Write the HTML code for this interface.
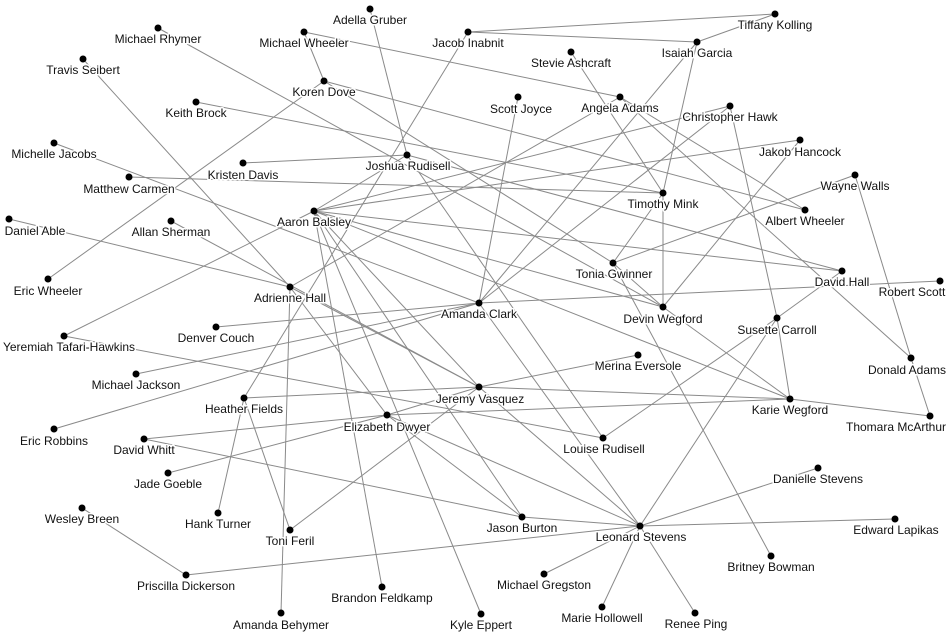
<!DOCTYPE html>
<html><head><meta charset="utf-8"><style>
html,body{margin:0;padding:0;background:#fff;}
svg{display:block;}
text{font-family:"Liberation Sans",sans-serif;font-size:12px;fill:#111;text-anchor:middle;paint-order:stroke;stroke:#fff;stroke-width:3px;stroke-linejoin:round;}
line{stroke:#8a8a8a;stroke-width:1;}
</style></head><body>
<svg width="950" height="642" viewBox="0 0 950 642" xmlns="http://www.w3.org/2000/svg">
<g>
<line x1="370" y1="9" x2="407" y2="155"/>
<line x1="304" y1="32" x2="324" y2="81"/>
<line x1="304" y1="32" x2="620" y2="97"/>
<line x1="468" y1="32" x2="775" y2="14"/>
<line x1="468" y1="32" x2="697" y2="42"/>
<line x1="775" y1="14" x2="697" y2="42"/>
<line x1="468" y1="32" x2="244" y2="398"/>
<line x1="158" y1="28" x2="663" y2="307"/>
<line x1="324" y1="81" x2="805" y2="210"/>
<line x1="324" y1="81" x2="613" y2="263"/>
<line x1="407" y1="155" x2="842" y2="271"/>
<line x1="196" y1="102" x2="663" y2="193"/>
<line x1="129" y1="177" x2="663" y2="193"/>
<line x1="54" y1="143" x2="479" y2="303"/>
<line x1="48" y1="279" x2="324" y2="81"/>
<line x1="83" y1="59" x2="290" y2="287"/>
<line x1="9" y1="219" x2="290" y2="287"/>
<line x1="171" y1="221" x2="479" y2="387"/>
<line x1="290" y1="287" x2="479" y2="387"/>
<line x1="290" y1="287" x2="620" y2="97"/>
<line x1="290" y1="287" x2="281" y2="613"/>
<line x1="290" y1="287" x2="387" y2="415"/>
<line x1="64" y1="336" x2="314" y2="211"/>
<line x1="64" y1="336" x2="603" y2="438"/>
<line x1="244" y1="398" x2="290" y2="530"/>
<line x1="244" y1="398" x2="218" y2="513"/>
<line x1="244" y1="398" x2="479" y2="387"/>
<line x1="290" y1="530" x2="479" y2="387"/>
<line x1="243" y1="163" x2="407" y2="155"/>
<line x1="407" y1="155" x2="314" y2="211"/>
<line x1="407" y1="155" x2="603" y2="438"/>
<line x1="314" y1="211" x2="730" y2="106"/>
<line x1="314" y1="211" x2="800" y2="140"/>
<line x1="314" y1="211" x2="663" y2="307"/>
<line x1="314" y1="211" x2="790" y2="399"/>
<line x1="314" y1="211" x2="842" y2="271"/>
<line x1="314" y1="211" x2="479" y2="387"/>
<line x1="314" y1="211" x2="382" y2="587"/>
<line x1="314" y1="211" x2="481" y2="614"/>
<line x1="314" y1="211" x2="522" y2="517"/>
<line x1="697" y1="42" x2="479" y2="303"/>
<line x1="730" y1="106" x2="479" y2="303"/>
<line x1="518" y1="97" x2="479" y2="303"/>
<line x1="571" y1="52" x2="663" y2="193"/>
<line x1="697" y1="42" x2="663" y2="193"/>
<line x1="620" y1="97" x2="911" y2="358"/>
<line x1="620" y1="97" x2="805" y2="210"/>
<line x1="479" y1="303" x2="940" y2="281"/>
<line x1="842" y1="271" x2="777" y2="318"/>
<line x1="855" y1="175" x2="613" y2="263"/>
<line x1="855" y1="175" x2="911" y2="358"/>
<line x1="911" y1="358" x2="930" y2="416"/>
<line x1="800" y1="140" x2="663" y2="307"/>
<line x1="730" y1="106" x2="777" y2="318"/>
<line x1="663" y1="193" x2="613" y2="263"/>
<line x1="663" y1="193" x2="663" y2="307"/>
<line x1="613" y1="263" x2="663" y2="307"/>
<line x1="613" y1="263" x2="771" y2="556"/>
<line x1="663" y1="307" x2="790" y2="399"/>
<line x1="777" y1="318" x2="790" y2="399"/>
<line x1="777" y1="318" x2="603" y2="438"/>
<line x1="777" y1="318" x2="640" y2="526"/>
<line x1="790" y1="399" x2="930" y2="416"/>
<line x1="790" y1="399" x2="479" y2="387"/>
<line x1="790" y1="399" x2="387" y2="415"/>
<line x1="638" y1="355" x2="479" y2="387"/>
<line x1="479" y1="387" x2="387" y2="415"/>
<line x1="479" y1="387" x2="640" y2="526"/>
<line x1="387" y1="415" x2="144" y2="439"/>
<line x1="387" y1="415" x2="168" y2="473"/>
<line x1="387" y1="415" x2="522" y2="517"/>
<line x1="387" y1="415" x2="640" y2="526"/>
<line x1="144" y1="439" x2="522" y2="517"/>
<line x1="82" y1="508" x2="186" y2="575"/>
<line x1="186" y1="575" x2="640" y2="526"/>
<line x1="640" y1="526" x2="818" y2="468"/>
<line x1="640" y1="526" x2="895" y2="519"/>
<line x1="640" y1="526" x2="544" y2="574"/>
<line x1="640" y1="526" x2="602" y2="607"/>
<line x1="640" y1="526" x2="695" y2="613"/>
<line x1="640" y1="526" x2="522" y2="517"/>
<line x1="479" y1="303" x2="216" y2="327"/>
<line x1="479" y1="303" x2="136" y2="374"/>
<line x1="479" y1="303" x2="54" y2="429"/>
<line x1="479" y1="303" x2="640" y2="526"/>
</g>
<g fill="#000">
<circle cx="370" cy="9" r="3.5"/><circle cx="775" cy="14" r="3.5"/><circle cx="158" cy="28" r="3.5"/><circle cx="304" cy="32" r="3.5"/><circle cx="468" cy="32" r="3.5"/><circle cx="697" cy="42" r="3.5"/><circle cx="83" cy="59" r="3.5"/><circle cx="571" cy="52" r="3.5"/><circle cx="324" cy="81" r="3.5"/><circle cx="518" cy="97" r="3.5"/><circle cx="620" cy="97" r="3.5"/><circle cx="196" cy="102" r="3.5"/><circle cx="730" cy="106" r="3.5"/><circle cx="54" cy="143" r="3.5"/><circle cx="800" cy="140" r="3.5"/><circle cx="407" cy="155" r="3.5"/><circle cx="243" cy="163" r="3.5"/><circle cx="129" cy="177" r="3.5"/><circle cx="855" cy="175" r="3.5"/><circle cx="663" cy="193" r="3.5"/><circle cx="805" cy="210" r="3.5"/><circle cx="9" cy="219" r="3.5"/><circle cx="171" cy="221" r="3.5"/><circle cx="314" cy="211" r="3.5"/><circle cx="613" cy="263" r="3.5"/><circle cx="842" cy="271" r="3.5"/><circle cx="940" cy="281" r="3.5"/><circle cx="48" cy="279" r="3.5"/><circle cx="290" cy="287" r="3.5"/><circle cx="479" cy="303" r="3.5"/><circle cx="663" cy="307" r="3.5"/><circle cx="216" cy="327" r="3.5"/><circle cx="64" cy="336" r="3.5"/><circle cx="777" cy="318" r="3.5"/><circle cx="638" cy="355" r="3.5"/><circle cx="911" cy="358" r="3.5"/><circle cx="136" cy="374" r="3.5"/><circle cx="479" cy="387" r="3.5"/><circle cx="244" cy="398" r="3.5"/><circle cx="790" cy="399" r="3.5"/><circle cx="930" cy="416" r="3.5"/><circle cx="387" cy="415" r="3.5"/><circle cx="54" cy="429" r="3.5"/><circle cx="603" cy="438" r="3.5"/><circle cx="144" cy="439" r="3.5"/><circle cx="818" cy="468" r="3.5"/><circle cx="168" cy="473" r="3.5"/><circle cx="82" cy="508" r="3.5"/><circle cx="218" cy="513" r="3.5"/><circle cx="522" cy="517" r="3.5"/><circle cx="640" cy="526" r="3.5"/><circle cx="895" cy="519" r="3.5"/><circle cx="290" cy="530" r="3.5"/><circle cx="771" cy="556" r="3.5"/><circle cx="544" cy="574" r="3.5"/><circle cx="186" cy="575" r="3.5"/><circle cx="382" cy="587" r="3.5"/><circle cx="602" cy="607" r="3.5"/><circle cx="695" cy="613" r="3.5"/><circle cx="281" cy="613" r="3.5"/><circle cx="481" cy="614" r="3.5"/>
</g>
<g>
<text x="370" y="24">Adella Gruber</text>
<text x="775" y="29">Tiffany Kolling</text>
<text x="158" y="43">Michael Rhymer</text>
<text x="304" y="47">Michael Wheeler</text>
<text x="468" y="47">Jacob Inabnit</text>
<text x="697" y="57">Isaiah Garcia</text>
<text x="83" y="74">Travis Seibert</text>
<text x="571" y="67">Stevie Ashcraft</text>
<text x="324" y="96">Koren Dove</text>
<text x="521" y="113">Scott Joyce</text>
<text x="620" y="112">Angela Adams</text>
<text x="196" y="117">Keith Brock</text>
<text x="730" y="121">Christopher Hawk</text>
<text x="54" y="158">Michelle Jacobs</text>
<text x="800" y="156">Jakob Hancock</text>
<text x="408" y="170">Joshua Rudisell</text>
<text x="243" y="179">Kristen Davis</text>
<text x="129" y="193">Matthew Carmen</text>
<text x="855" y="190">Wayne Walls</text>
<text x="663" y="208">Timothy Mink</text>
<text x="805" y="225">Albert Wheeler</text>
<text x="35" y="235">Daniel Able</text>
<text x="171" y="236">Allan Sherman</text>
<text x="314" y="226">Aaron Balsley</text>
<text x="614" y="278">Tonia Gwinner</text>
<text x="842" y="286">David Hall</text>
<text x="912" y="296">Robert Scott</text>
<text x="48" y="295">Eric Wheeler</text>
<text x="290" y="302">Adrienne Hall</text>
<text x="479" y="318">Amanda Clark</text>
<text x="663" y="323">Devin Wegford</text>
<text x="216" y="342">Denver Couch</text>
<text x="69" y="351">Yeremiah Tafari-Hawkins</text>
<text x="777" y="334">Susette Carroll</text>
<text x="638" y="370">Merina Eversole</text>
<text x="907" y="374">Donald Adams</text>
<text x="136" y="389">Michael Jackson</text>
<text x="480" y="403">Jeremy Vasquez</text>
<text x="244" y="413">Heather Fields</text>
<text x="790" y="414">Karie Wegford</text>
<text x="896" y="431">Thomara McArthur</text>
<text x="387" y="431">Elizabeth Dwyer</text>
<text x="54" y="445">Eric Robbins</text>
<text x="604" y="453">Louise Rudisell</text>
<text x="144" y="454">David Whitt</text>
<text x="818" y="483">Danielle Stevens</text>
<text x="168" y="488">Jade Goeble</text>
<text x="82" y="523">Wesley Breen</text>
<text x="218" y="528">Hank Turner</text>
<text x="522" y="532">Jason Burton</text>
<text x="641" y="541">Leonard Stevens</text>
<text x="896" y="534">Edward Lapikas</text>
<text x="290" y="545">Toni Feril</text>
<text x="771" y="571">Britney Bowman</text>
<text x="544" y="589">Michael Gregston</text>
<text x="186" y="590">Priscilla Dickerson</text>
<text x="382" y="602">Brandon Feldkamp</text>
<text x="602" y="622">Marie Hollowell</text>
<text x="696" y="628">Renee Ping</text>
<text x="281" y="629">Amanda Behymer</text>
<text x="481" y="629">Kyle Eppert</text>
</g>
</svg>
</body></html>
